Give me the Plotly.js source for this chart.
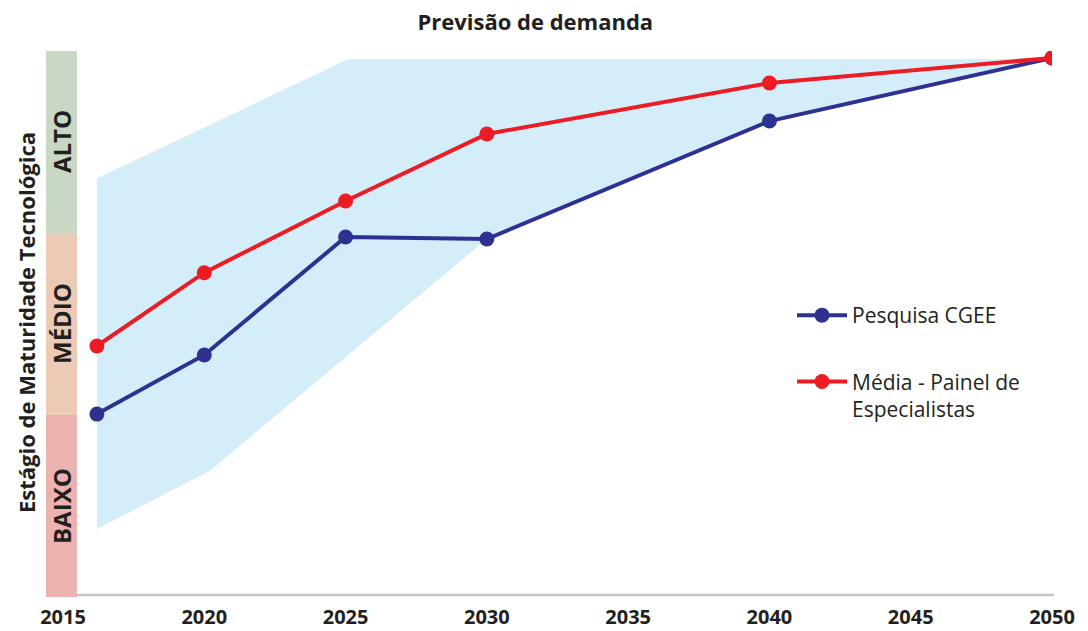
<!DOCTYPE html>
<html>
<head>
<meta charset="utf-8">
<script src="https://cdn.plot.ly/plotly-3.0.1.min.js"></script>
<style>html,body{margin:0;padding:0;background:#fff;}#chart{width:1088px;height:631px;}</style>
</head>
<body>
<div id="chart"></div>
<script>
// Data
const years = [2016.2, 2020, 2025, 2030, 2040, 2050];
const cgee = [1.005, 1.33, 1.978, 1.967, 2.615, 2.962];
const painel = [1.379, 1.782, 2.176, 2.544, 2.824, 2.962];
const rangeUpperX = [2016.2, 2025.1, 2050];
const rangeUpperY = [2.3, 2.956, 2.956];
const rangeLowerX = [2050, 2040, 2030, 2020.2, 2016.2];
const rangeLowerY = [2.956, 2.615, 1.967, 0.694, 0.374];
const xTicks = [2015, 2020, 2025, 2030, 2035, 2040, 2045, 2050];
const levels = ["BAIXO", "MÉDIO", "ALTO"];
const levelColors = ["#ecb2b0", "#ebcab6", "#c8d8c5"];
const seriesNames = ["Pesquisa CGEE", "Média - Painel de<br>Especialistas"];

const dark = "#231f20";
const traces = [
  {
    x: rangeUpperX.concat(rangeLowerX),
    y: rangeUpperY.concat(rangeLowerY),
    type: "scatter", mode: "lines", fill: "toself",
    fillcolor: "#d3eef9", line: {width: 0, color: "rgba(0,0,0,0)"},
    showlegend: false, hoverinfo: "skip"
  },
  {
    x: years, y: cgee, name: seriesNames[0], type: "scatter", mode: "lines+markers",
    line: {color: "#2e3192", width: 4}, marker: {color: "#2e3192", size: 15},
    legendgroup: "a"
  },
  {
    x: years, y: painel, name: seriesNames[1], type: "scatter", mode: "lines+markers",
    line: {color: "#ed1c24", width: 4}, marker: {color: "#ed1c24", size: 15},
    legendgroup: "b"
  }
];

const L = 63, R = 1052, W = R - L;
const px2paper = p => (p - L) / W;
const shapes = [];
const annotations = [];
levels.forEach((lv, i) => {
  shapes.push({type: "rect", xref: "paper", yref: "y", x0: px2paper(46), x1: px2paper(77),
    y0: i, y1: i + 1, fillcolor: levelColors[i], line: {width: 0}, layer: "below"});
  annotations.push({xref: "paper", yref: "y", x: px2paper(61), y: i + 0.5, text: "<b>" + lv + "</b>",
    textangle: -90, showarrow: false, xanchor: "center", yanchor: "middle",
    font: {family: "Open Sans", size: 24, color: dark}});
});
shapes.push({type: "line", xref: "paper", yref: "y", x0: px2paper(77), x1: px2paper(1054),
  y0: 0.011, y1: 0.011, line: {color: "#c4c4c8", width: 2.5}});
annotations.push({xref: "paper", yref: "paper", x: px2paper(26), y: (597 - 323) / 546,
  text: "<b>Estágio de Maturidade Tecnológica</b>", textangle: -90, showarrow: false,
  xanchor: "center", yanchor: "middle",
  font: {family: "Open Sans", size: 22, color: dark}});

const layout = {
  width: 1088, height: 631,
  margin: {l: L, r: 1088 - R, t: 51, b: 34},
  paper_bgcolor: "#fff", plot_bgcolor: "#fff",
  title: {text: "<b>Previsão de demanda</b>", x: 0.492, xref: "container", xanchor: "center",
    y: 1 - 22 / 631, yref: "container", yanchor: "middle",
    font: {family: "Open Sans", size: 22, color: dark}},
  xaxis: {range: [2015, 2050], tickvals: xTicks, ticktext: xTicks.map(String),
    showgrid: false, zeroline: false, showline: false, ticks: "",
    tickfont: {family: "Open Sans", size: 20, color: dark, weight: "bold"}, ticklabelstandoff: 6},
  yaxis: {range: [0, 3], showgrid: false, zeroline: false, showline: false,
    showticklabels: false, ticks: ""},
  showlegend: true,
  legend: {x: px2paper(792), y: (597 - 295) / 546, xanchor: "left", yanchor: "top",
    font: {family: "Open Sans", size: 21, color: dark}, tracegroupgap: 36,
    itemwidth: 50, bgcolor: "rgba(0,0,0,0)", traceorder: "grouped", valign: "top"},
  shapes: shapes, annotations: annotations
};
Plotly.newPlot("chart", traces, layout, {displayModeBar: false, staticPlot: true});
</script>
</body>
</html>
